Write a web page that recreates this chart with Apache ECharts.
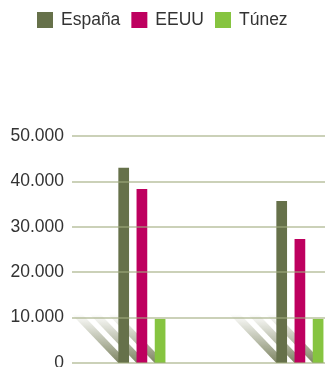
<!DOCTYPE html>
<html>
<head>
<meta charset="utf-8">
<script src="https://cdn.jsdelivr.net/npm/echarts@6/dist/echarts.min.js"></script>
<style>
  html, body { margin: 0; padding: 0; background: #ffffff; }
  #chart { width: 325px; height: 367px; }
</style>
</head>
<body>
<div id="chart"></div>
<script>
// Two groups, three countries
const categories = ['Grupo 1', 'Grupo 2'];
const espana = [43000, 35700];
const eeuu = [38300, 27300];
const tunez = [9700, 9700];
const yTickLabels = ['0', '10.000', '20.000', '30.000', '40.000', '50.000'];

const seriesNames = ['España', 'EEUU', 'Túnez'];
const colors = ['#66714a', '#be005f', '#86c440'];

// bar geometry shared by bars and their drop shadows
const BAR_W = 10.7;
const BAR_GAP = 7.5;
const SLOTS = 4; // last slot is an empty series that pushes the bars left

const shadowData = [];
categories.forEach((c, i) => { for (let s = 0; s < 3; s++) shadowData.push([i, s]); });

const chart = echarts.init(document.getElementById('chart'));
chart.setOption({
  animation: false,
  color: colors,
  legend: {
    data: seriesNames,
    top: 6,
    left: 32,
    itemWidth: 16,
    itemHeight: 16,
    itemGap: 11,
    icon: 'rect',
    textStyle: { fontFamily: 'Liberation Sans, Arial, sans-serif', fontSize: 17.5, color: '#333333', padding: [0, 0, 0, 3] }
  },
  grid: { left: 72, width: 316, top: 136, bottom: 4, containLabel: false, outerBoundsMode: 'none' },
  xAxis: {
    type: 'category',
    data: categories,
    axisLine: { show: false },
    axisTick: { show: false },
    axisLabel: { show: false },
    splitLine: { show: false }
  },
  yAxis: {
    type: 'value',
    min: 0,
    max: 50000,
    interval: 10000,
    z: 5,
    axisLine: { show: false },
    axisTick: { show: false },
    axisLabel: {
      margin: 8,
      fontFamily: 'Liberation Sans, Arial, sans-serif',
      fontSize: 17.5,
      color: '#333333',
      formatter: (v) => yTickLabels[Math.round(v / 10000)]
    },
    splitLine: { lineStyle: { color: 'rgba(160,172,125,0.55)', width: 2 } }
  },
  series: [
    {
      type: 'custom',
      silent: true,
      z: 1,
      data: shadowData,
      encode: { x: 0, y: 1 },
      renderItem: function (params, api) {
        const cat = api.value(0);
        const slot = api.value(1);
        const base = api.coord([cat, 0]);
        const groupW = SLOTS * BAR_W + (SLOTS - 1) * BAR_GAP;
        const left = base[0] - groupW / 2 + slot * (BAR_W + BAR_GAP);
        const y0 = base[1];
        const h = 49, d = 47;
        return {
          type: 'polygon',
          shape: { points: [[left, y0], [left + BAR_W, y0], [left + BAR_W - d, y0 - h], [left - d, y0 - h]] },
          style: {
            fill: new echarts.graphic.LinearGradient(0, 0, 0, 1, [
              { offset: 0, color: 'rgba(120,128,90,0)' },
              { offset: 1, color: 'rgba(110,118,80,0.9)' }
            ])
          }
        };
      }
    },
    { name: seriesNames[0], type: 'bar', z: 2, data: espana, barWidth: BAR_W, barGap: (BAR_GAP / BAR_W * 100) + '%', itemStyle: { color: colors[0] } },
    { name: seriesNames[1], type: 'bar', z: 2, data: eeuu, barWidth: BAR_W, barGap: (BAR_GAP / BAR_W * 100) + '%', itemStyle: { color: colors[1] } },
    { name: seriesNames[2], type: 'bar', z: 2, data: tunez, barWidth: BAR_W, barGap: (BAR_GAP / BAR_W * 100) + '%', itemStyle: { color: colors[2] } },
    { name: 'reserva', type: 'bar', data: [null, null], barWidth: BAR_W, barGap: (BAR_GAP / BAR_W * 100) + '%' }
  ]
});
</script>
</body>
</html>
